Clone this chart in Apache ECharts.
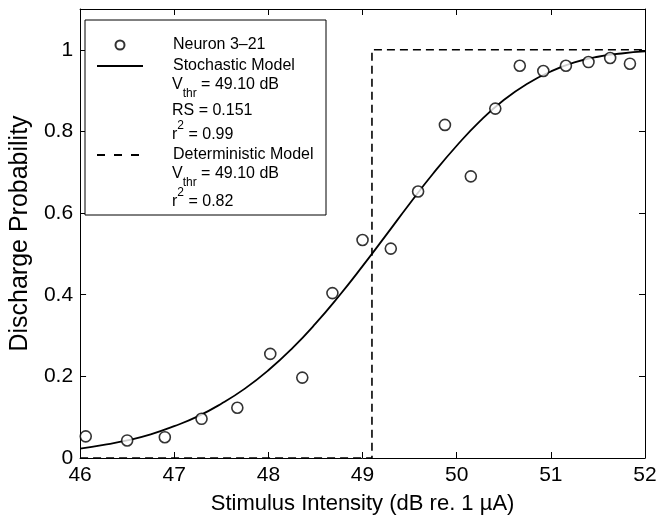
<!DOCTYPE html>
<html>
<head>
<meta charset="utf-8">
<script src="https://cdn.jsdelivr.net/npm/echarts@6/dist/echarts.min.js"></script>
<style>html,body{margin:0;padding:0;background:#fff}#c{width:660px;height:520px}</style>
</head>
<body>
<div id="c"></div>
<script>
// Measured data: Neuron 3-21
var stimX = [46.06, 46.50, 46.90, 47.29, 47.67, 48.02, 48.36, 48.68, 49.00, 49.30, 49.59, 49.875, 50.15, 50.41, 50.67, 50.92, 51.16, 51.40, 51.63, 51.84];
var probY = [0.053, 0.043, 0.051, 0.096, 0.123, 0.255, 0.197, 0.404, 0.534, 0.513, 0.653, 0.816, 0.690, 0.856, 0.961, 0.948, 0.961, 0.970, 0.980, 0.966];
// Stochastic model curve
var fitX = [46, 46.25, 46.5, 46.75, 47, 47.25, 47.5, 47.75, 48, 48.25, 48.5, 48.75, 49, 49.25, 49.5, 49.75, 50, 50.25, 50.5, 50.75, 51, 51.25, 51.5, 51.75, 52];
var fitY = [0.023, 0.032, 0.043, 0.058, 0.078, 0.102, 0.133, 0.170, 0.215, 0.268, 0.329, 0.397, 0.470, 0.546, 0.623, 0.697, 0.765, 0.826, 0.877, 0.917, 0.947, 0.969, 0.983, 0.991, 0.996];
// Deterministic model step
var detX = [46, 49.1, 49.1, 52];
var detY = [0, 0, 1, 1];
// Axis ticks
var xTicks = [46, 47, 48, 49, 50, 51, 52];
var yTicks = [0, 0.2, 0.4, 0.6, 0.8, 1];

function zip(a, b) { return a.map(function (v, i) { return [v, b[i]]; }); }

var FONT = '"Liberation Sans", Arial, Helvetica, sans-serif';
var chart = echarts.init(document.getElementById('c'));

var tickCommon = { show: true, inside: true, length: 6, lineStyle: { color: '#000', width: 1 } };
var lineCommon = { show: true, onZero: false, lineStyle: { color: '#000', width: 1 } };

var richLegend = {
  m: { fontSize: 16, fontFamily: FONT, color: '#000', lineHeight: 18, verticalAlign: 'top' },
  sub: { fontSize: 12, fontFamily: FONT, color: '#000', lineHeight: 12, verticalAlign: 'top', padding: [11, 0, 0, 0] },
  m2: { fontSize: 16, fontFamily: FONT, color: '#000', lineHeight: 18, verticalAlign: 'top', padding: [7, 0, 0, 0] },
  sup: { fontSize: 12, fontFamily: FONT, color: '#000', lineHeight: 12, verticalAlign: 'top' }
};

function legText(y, str) {
  return { type: 'text', left: 172, top: y, z: 100, style: { text: str, rich: richLegend, fill: '#000', font: '16px ' + FONT } };
}

var legTextStyle = { color: '#000', fontSize: 16, fontFamily: FONT, padding: [0, 0, 0, 25] };

chart.setOption({
  backgroundColor: '#fff',
  animation: false,
  grid: { left: 69, right: 15, top: 9, bottom: 54, containLabel: false },
  xAxis: [{
    type: 'value', min: 46, max: 52, interval: 1, position: 'bottom',
    axisLine: lineCommon, axisTick: tickCommon, splitLine: { show: false },
    axisLabel: { color: '#000', fontSize: 21, fontFamily: FONT, margin: 7 },
    name: 'Stimulus Intensity (dB re. 1 \u00b5A)', nameLocation: 'middle', nameGap: 35,
    nameTextStyle: { color: '#000', fontSize: 22, fontFamily: FONT }
  }, {
    type: 'value', min: 46, max: 52, interval: 1, position: 'top',
    axisLine: lineCommon, axisTick: tickCommon, axisLabel: { show: false }, splitLine: { show: false }
  }],
  yAxis: [{
    type: 'value', min: 0, max: 1.1, interval: 0.2, position: 'left',
    axisLine: lineCommon, axisTick: tickCommon, splitLine: { show: false },
    axisLabel: { color: '#000', fontSize: 21, fontFamily: FONT, margin: 7, showMaxLabel: false,
      formatter: function (v) { return String(+v.toFixed(1)); } },
    name: 'Discharge Probability', nameLocation: 'middle', nameGap: 40,
    nameTextStyle: { color: '#000', fontSize: 25, fontFamily: FONT }
  }, {
    type: 'value', min: 0, max: 1.1, interval: 0.2, position: 'right',
    axisLine: lineCommon, axisTick: tickCommon, axisLabel: { show: false }, splitLine: { show: false }
  }],
  legend: [{
    orient: 'vertical', left: 96, top: 37, padding: 0, itemGap: 5, itemWidth: 46, itemHeight: 9,
    data: [
      { name: 'Neuron 3\u201321' },
      { name: 'Stochastic Model', itemStyle: { opacity: 0 } }
    ],
    textStyle: legTextStyle, selectedMode: false, z: 10
  }, {
    orient: 'vertical', left: 96, top: 147, padding: 0, itemWidth: 46, itemHeight: 9,
    data: [{ name: 'Deterministic Model', itemStyle: { opacity: 0 }, lineStyle: { type: [8, 9] } }],
    textStyle: legTextStyle, selectedMode: false, z: 10
  }],
  graphic: [
    { type: 'rect', z: 5, shape: { x: 85, y: 20, width: 241, height: 195 }, style: { fill: '#fff', stroke: '#000', lineWidth: 1 } },
    legText(77, '{m|V}{sub|thr}{m| = 49.10 dB}'),
    legText(103, '{m|RS = 0.151}'),
    legText(120, '{m2|r}{sup|2}{m2| = 0.99}'),
    legText(166, '{m|V}{sub|thr}{m| = 49.10 dB}'),
    legText(187, '{m2|r}{sup|2}{m2| = 0.82}')
  ],
  series: [{
    name: 'Neuron 3\u201321', type: 'scatter', data: zip(stimX, probY),
    symbol: 'circle', symbolSize: 11,
    itemStyle: { color: '#fff', borderColor: '#000', borderWidth: 1.6 }, z: 3
  }, {
    name: 'Stochastic Model', type: 'line', data: zip(fitX, fitY), smooth: true,
    symbol: 'none', lineStyle: { color: '#000', width: 1.8 }, itemStyle: { color: '#000' }, z: 2
  }, {
    name: 'Deterministic Model', type: 'line', data: zip(detX, detY),
    symbol: 'none', lineStyle: { color: '#000', width: 1.6, type: [8, 5] }, itemStyle: { color: '#000' }, z: 2
  }]
});
</script>
</body>
</html>
